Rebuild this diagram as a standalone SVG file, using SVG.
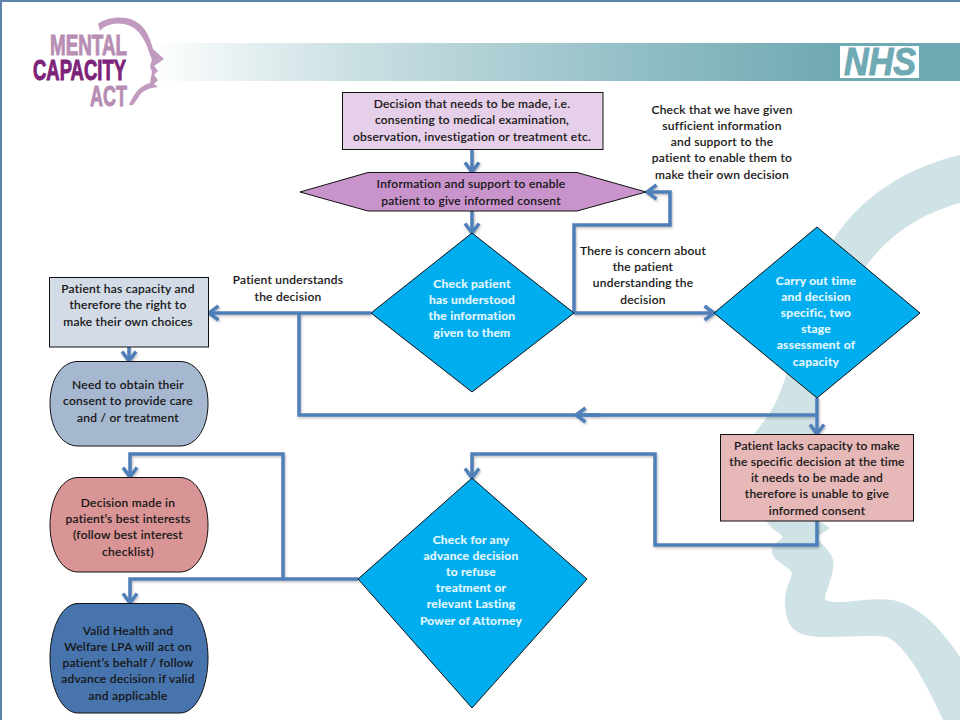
<svg xmlns="http://www.w3.org/2000/svg" width="960" height="720" viewBox="0 0 960 720">
<style>
text{font-family:"Lato","Liberation Sans",sans-serif;font-size:12px;text-anchor:middle;fill:#141414;stroke:#141414;stroke-width:.15px;font-weight:500;letter-spacing:.25px}
.w{fill:#e6f8ff;stroke:#e6f8ff;font-weight:700}
.n{stroke:#111;stroke-width:1}
.c{fill:none;stroke:#4f7fb8;stroke-width:3.500;stroke-linejoin:miter}
.logo{font-family:"Liberation Sans",sans-serif;font-weight:700;font-size:29px;text-anchor:start;letter-spacing:0;stroke-width:1px}
.l1{fill:#b78db4;stroke:#b78db4}
.l2{fill:#7d2279;stroke:#7d2279}
</style>
<defs>
<linearGradient id="band" x1="0" x2="1" y1="0" y2="0">
<stop offset="0" stop-color="#fff"/><stop offset=".22" stop-color="#d0e3e6"/><stop offset=".62" stop-color="#8fbcc4"/><stop offset=".85" stop-color="#6fa9b3"/><stop offset="1" stop-color="#6fa9b3"/>
</linearGradient>
<marker id="arr" markerUnits="userSpaceOnUse" markerWidth="16" markerHeight="18" refX="12" refY="8" orient="auto" overflow="visible">
<path d="M2.500,1 L12,8 L2.500,15" fill="none" stroke="#4f7fb8" stroke-width="3.500"/>
</marker>
<filter id="sh" x="-5%" y="-5%" width="110%" height="110%"><feDropShadow dx="1" dy="1.500" stdDeviation="1" flood-color="#000" flood-opacity=".25"/></filter>
</defs>
<rect width="960" height="720" fill="#fff"/>
<path d="M960,155 C905,168 862,197 835,237 C808,280 795,360 777,400 C768,420 752,432 750,445 L762,515 L767,522 C772,530 780,533 783,537 C778,542 770,546 772,553 C775,563 788,565 792,573 C790,582 784,592 785,603 C786,622 790,630 805,635 C825,640 860,634 887,637 C905,645 925,680 943,720 L960,720 L960,657 C945,635 925,608 893,600 C870,597 850,603 833,602 C826,601 824,600 825,597 C828,585 835,572 833,560 C831,550 820,544 817,537 L830,528 L818,520 L815,440 L817,400 C835,350 850,290 867,265 C885,240 915,215 960,203 Z" fill="#cfe2e6"/>
<rect x="150" y="43" width="810" height="38" fill="url(#band)"/>
<rect x="840" y="46" width="79" height="32" fill="#fff"/>
<text x="880" y="75" style="font-family:'Liberation Sans',sans-serif;font-weight:700;font-style:italic;font-size:38px;fill:#6fa9b3;stroke:#6fa9b3;stroke-width:1px;letter-spacing:0" textLength="72" lengthAdjust="spacingAndGlyphs">NHS</text>
<path d="M98,24 C106,17 125,15 135,21 C146,27 150,38 153,49 L164,59 L154,66 L158,71 L154,75 L158,80 L154,84 L158,87 C150,88 142,90 138,98 L133,105 L129,105 C133,96 138,86 150,83 L151,77 L152,72 L150,66 L152,60 L149,52 C146,42 140,30 130,26 C118,21 106,24 100,31 Z" fill="#c09abf"/>
<text class="logo l1" x="50" y="55" textLength="77" lengthAdjust="spacingAndGlyphs">MENTAL</text>
<text class="logo l2" x="33" y="80" textLength="93" lengthAdjust="spacingAndGlyphs">CAPACITY</text>
<text class="logo l1" x="90" y="106" textLength="37" lengthAdjust="spacingAndGlyphs">ACT</text>
<path d="M1,720 V1 H960" fill="none" stroke="#5b84ad" stroke-width="2"/>

<g id="connectors" filter="url(#sh)">
<path class="c" d="M472,150 V172" marker-end="url(#arr)"/>
<path class="c" d="M472,211 V233" marker-end="url(#arr)"/>
<path class="c" d="M574,313 V225 H670 V192 H647" marker-end="url(#arr)"/>
<path class="c" d="M574,313 H714" marker-end="url(#arr)"/>
<path class="c" d="M371,313 H209" marker-end="url(#arr)"/>
<path class="c" d="M817,415 H299 V313"/>
<path class="c" d="M600,415 H576" marker-end="url(#arr)"/>
<path class="c" d="M817,398 V434" marker-end="url(#arr)"/>
<path class="c" d="M817,521 V545 H655 V454 H472 V478" marker-end="url(#arr)"/>
<path class="c" d="M358,579 H130 V603" marker-end="url(#arr)"/>
<path class="c" d="M283,579 V454 H130 V477" marker-end="url(#arr)"/>
<path class="c" d="M129,347 V361" marker-end="url(#arr)"/>
</g>

<g id="decision-needed"><rect class="n" x="342.500" y="92.500" width="260.500" height="57" fill="#e6cfe8"/>
<text x="472" y="108">Decision that needs to be made, i.e.</text><text x="472" y="124">consenting to medical examination,</text><text x="472" y="141">observation, investigation or treatment etc.</text></g>

<g id="information"><path class="n" d="M300,192 L368,172.500 H577 L646,192 L577,211 H368 Z" fill="#c994cc"/>
<text x="471" y="188">Information and support to enable</text><text x="471" y="205">patient to give informed consent</text></g>

<g id="note-check"><text x="722" y="114">Check that we have given</text><text x="722" y="130">sufficient information</text><text x="722" y="146">and support to the</text><text x="722" y="162">patient to enable them to</text><text x="722" y="179">make their own decision</text></g>

<g id="note-concern"><text x="643" y="255">There is concern about</text><text x="643" y="271">the patient</text><text x="643" y="287">understanding the</text><text x="643" y="304">decision</text></g>

<g id="note-understands"><text x="288" y="284">Patient understands</text><text x="288" y="301">the decision</text></g>

<g id="check-understood"><path class="n" d="M472,233 L574,313 L472,392 L371,313 Z" fill="#00adef"/>
<text class="w" x="472" y="288">Check patient</text><text class="w" x="472" y="304">has understood</text><text class="w" x="472" y="320">the information</text><text class="w" x="472" y="337">given to them</text></g>

<g id="assessment"><path class="n" d="M817,227 L920,313 L817,398 L714,313 Z" fill="#00adef"/>
<text class="w" x="816" y="285">Carry out time</text><text class="w" x="816" y="301">and decision</text><text class="w" x="816" y="317">specific, two</text><text class="w" x="816" y="333">stage</text><text class="w" x="816" y="349">assessment of</text><text class="w" x="816" y="366">capacity</text></g>

<g id="has-capacity"><rect class="n" x="49.500" y="277.500" width="159" height="69.500" fill="#d3dbe6"/>
<text x="128" y="293">Patient has capacity and</text><text x="128" y="309">therefore the right to</text><text x="128" y="326">make their own choices</text></g>

<g id="obtain-consent"><path class="n" d="M78,361.500 H180 C197,361.500 208,380 208,403.500 C208,427 197,446 180,446 H78 C61,446 50,427 50,403.500 C50,380 61,361.500 78,361.500 Z" fill="#a6b8d0"/>
<text x="128" y="389">Need to obtain their</text><text x="128" y="405">consent to provide care</text><text x="128" y="422">and / or treatment</text></g>

<g id="best-interests"><path class="n" d="M78,477.500 H180 C197,477.500 208,500 208,525 C208,550 197,572 180,572 H78 C61,572 50,550 50,525 C50,500 61,477.500 78,477.500 Z" fill="#d99595"/>
<text x="128" y="507">Decision made in</text><text x="128" y="523">patient’s best interests</text><text x="128" y="539">(follow best interest</text><text x="128" y="556">checklist)</text></g>

<g id="valid-lpa"><path class="n" d="M78,603.500 H180 C197,603.500 208,630 208,658 C208,686 197,713 180,713 H78 C61,713 50,686 50,658 C50,630 61,603.500 78,603.500 Z" fill="#4874ad"/>
<text x="128" y="635">Valid Health and</text><text x="128" y="651">Welfare LPA will act on</text><text x="128" y="667">patient’s behalf / follow</text><text x="128" y="683">advance decision if valid</text><text x="128" y="700">and applicable</text></g>

<g id="lacks-capacity"><rect class="n" x="720.500" y="434.500" width="193" height="86.500" fill="#e6b8b8"/>
<text x="817" y="450">Patient lacks capacity to make</text><text x="817" y="466">the specific decision at the time</text><text x="817" y="482">it needs to be made and</text><text x="817" y="498">therefore is unable to give</text><text x="817" y="515">informed consent</text></g>

<g id="advance-decision"><path class="n" d="M472,478 L587,579 L472,708 L358,579 Z" fill="#00adef"/>
<text class="w" x="471" y="544">Check for any</text><text class="w" x="471" y="560">advance decision</text><text class="w" x="471" y="576">to refuse</text><text class="w" x="471" y="592">treatment or</text><text class="w" x="471" y="608">relevant Lasting</text><text class="w" x="471" y="625">Power of Attorney</text></g>
</svg>
